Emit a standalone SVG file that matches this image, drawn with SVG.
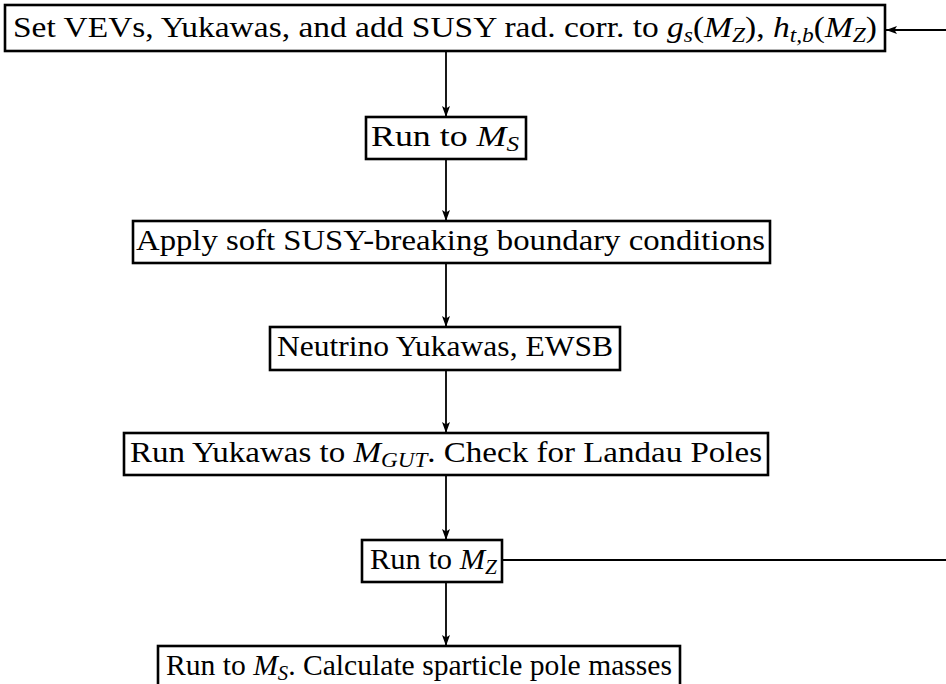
<svg xmlns="http://www.w3.org/2000/svg" width="946" height="684" viewBox="0 0 946 684">
<defs>
<marker id="ah" viewBox="0 0 11 8" refX="11" refY="4" markerWidth="11" markerHeight="8" markerUnits="userSpaceOnUse" orient="auto">
<path d="M0,0 L11,4 L0,8 L2.5,4 Z" fill="#000"/>
</marker>
<style>
.box{fill:#fff;stroke:#000;stroke-width:2.6}
.t{font-family:"Liberation Serif","Times New Roman",serif;font-size:30px;fill:#000;text-anchor:middle}
.m{font-style:italic}
.s{font-size:21px;font-style:italic}
.c{fill:none;stroke:#000;stroke-width:1.8}
</style>
</defs>
<rect width="946" height="684" fill="#fff"/>
<g id="connectors">
<line class="c" x1="446" y1="52" x2="446" y2="117" marker-end="url(#ah)"/>
<line class="c" x1="446" y1="159" x2="446" y2="221" marker-end="url(#ah)"/>
<line class="c" x1="446" y1="263" x2="446" y2="327" marker-end="url(#ah)"/>
<line class="c" x1="446" y1="370" x2="446" y2="433" marker-end="url(#ah)"/>
<line class="c" x1="446" y1="475" x2="446" y2="540" marker-end="url(#ah)"/>
<line class="c" x1="446" y1="582" x2="446" y2="646" marker-end="url(#ah)"/>
<line class="c" x1="502" y1="560" x2="946" y2="560"/>
<line class="c" x1="946" y1="30" x2="886" y2="30" marker-end="url(#ah)"/>
</g>
<g id="n1">
<rect class="box" x="5" y="5" width="880" height="46"/>
<text class="t" x="445" y="37" textLength="864" lengthAdjust="spacingAndGlyphs">Set VEVs, Yukawas, and add SUSY rad. corr. to <tspan class="m">g</tspan><tspan class="s" dy="5">s</tspan><tspan dy="-5">(</tspan><tspan class="m">M</tspan><tspan class="s" dy="5">Z</tspan><tspan dy="-5">), </tspan><tspan class="m">h</tspan><tspan class="s" dy="5">t,b</tspan><tspan dy="-5">(</tspan><tspan class="m">M</tspan><tspan class="s" dy="5">Z</tspan><tspan dy="-5">)</tspan></text>
</g>
<g id="n2">
<rect class="box" x="366" y="117" width="160" height="42"/>
<text class="t" x="445" y="146" textLength="148" lengthAdjust="spacingAndGlyphs">Run to <tspan class="m">M</tspan><tspan class="s" dy="5">S</tspan></text>
</g>
<g id="n3">
<rect class="box" x="133" y="221" width="637" height="42"/>
<text class="t" x="450.5" y="250" textLength="629" lengthAdjust="spacingAndGlyphs">Apply soft SUSY-breaking boundary conditions</text>
</g>
<g id="n4">
<rect class="box" x="270" y="327" width="350" height="43"/>
<text class="t" x="445" y="356" textLength="336" lengthAdjust="spacingAndGlyphs">Neutrino Yukawas, EWSB</text>
</g>
<g id="n5">
<rect class="box" x="124" y="433" width="644" height="42"/>
<text class="t" x="446" y="462" textLength="632" lengthAdjust="spacingAndGlyphs">Run Yukawas to <tspan class="m">M</tspan><tspan class="s" dy="5">GUT</tspan><tspan dy="-5">. Check for Landau Poles</tspan></text>
</g>
<g id="n6">
<rect class="box" x="362" y="540" width="140" height="42"/>
<text class="t" x="433.5" y="569" textLength="127" lengthAdjust="spacingAndGlyphs">Run to <tspan class="m">M</tspan><tspan class="s" dy="5">Z</tspan></text>
</g>
<g id="n7">
<rect class="box" x="158" y="646" width="522" height="46"/>
<text class="t" x="419" y="675" textLength="506" lengthAdjust="spacingAndGlyphs">Run to <tspan class="m">M</tspan><tspan class="s" dy="5">S</tspan><tspan dy="-5">. Calculate sparticle pole masses</tspan></text>
</g>
</svg>
